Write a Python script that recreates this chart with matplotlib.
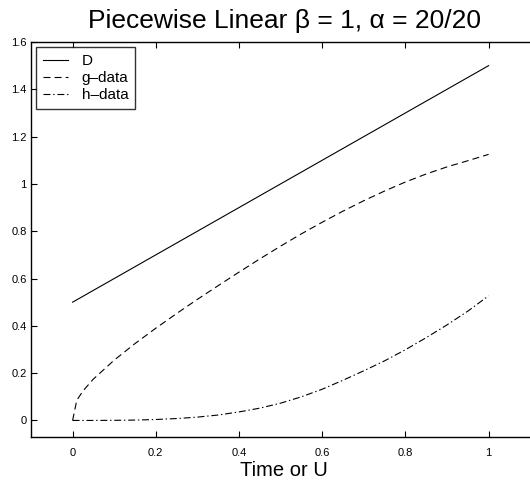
import numpy as np
import matplotlib
matplotlib.use("Agg")
import matplotlib.pyplot as plt

plt.rcParams['font.family'] = ['Liberation Sans', 'DejaVu Sans']
plt.rcParams['lines.scale_dashes'] = False

# sampled curves on [0, 1]
t = [0.0, 0.01, 0.025, 0.05, 0.1, 0.15, 0.2, 0.25, 0.3, 0.35, 0.4, 0.45,
     0.5, 0.55, 0.6, 0.65, 0.7, 0.75, 0.8, 0.85, 0.9, 0.95, 1.0]
d_vals = [0.5, 0.51, 0.525, 0.55, 0.6, 0.65, 0.7, 0.75, 0.8, 0.85, 0.9, 0.95,
          1.0, 1.05, 1.1, 1.15, 1.2, 1.25, 1.3, 1.35, 1.4, 1.45, 1.5]
g_vals = [0.0, 0.085, 0.125, 0.175, 0.255, 0.325, 0.39, 0.452, 0.512, 0.570, 0.627, 0.683,
          0.737, 0.789, 0.838, 0.885, 0.929, 0.970, 1.008, 1.042, 1.072, 1.098, 1.125]
h_vals = [0.0, 0.0, 0.0, 0.0, 0.0005, 0.0015, 0.004, 0.008, 0.014, 0.023, 0.036, 0.052,
          0.073, 0.100, 0.132, 0.170, 0.210, 0.252, 0.299, 0.350, 0.404, 0.462, 0.527]

xticks = [0, 0.2, 0.4, 0.6, 0.8, 1]
xticklabels = ['0', '0.2', '0.4', '0.6', '0.8', '1']
yticks = [0, 0.2, 0.4, 0.6, 0.8, 1, 1.2, 1.4, 1.6]
yticklabels = ['0', '0.2', '0.4', '0.6', '0.8', '1', '1.2', '1.4', '1.6']

fig = plt.figure(figsize=(5.3, 4.82), dpi=100)
# axes run a little past the right edge of the canvas
ax_w = 506
ax = fig.add_axes([31 / 530, 1 - 437 / 482, ax_w / 530, (437 - 42) / 482])

ax.plot(t, d_vals, color='black', lw=0.8, ls='-', label='D')
ax.plot(t, g_vals, color='black', lw=0.8, ls=(0, (5, 3)), label='g\u2013data')
ax.plot(t, h_vals, color='black', lw=0.8, ls=(0, (5, 2, 1, 2)), label='h\u2013data')

ax.set_xlim(-0.1, -0.1 + ax_w / 416)
ax.set_ylim(-0.07, 1.6)
ax.set_xticks(xticks)
ax.set_xticklabels(xticklabels)
ax.set_yticks(yticks)
ax.set_yticklabels(yticklabels)
ax.tick_params(direction='in', length=4, width=0.8, labelsize=8,
               top=True, right=True)
ax.tick_params(axis='x', pad=8)
ax.tick_params(axis='y', pad=3)
for s in ax.spines.values():
    s.set_linewidth(1.0)

ax.set_xlabel('Time or U', fontsize=14.5, labelpad=2)
fig.text(285 / 530, 1 - 21 / 482, 'Piecewise Linear \u03b2 = 1, \u03b1 = 20/20',
         fontsize=19, ha='center', va='center')

leg = ax.legend(loc='upper left', bbox_to_anchor=(5 / ax_w, 1 - 5 / 395),
                fontsize=11, frameon=True, fancybox=False, borderaxespad=0,
                handlelength=1.65, handletextpad=0.9, labelspacing=0.2,
                borderpad=0.45)
leg.get_frame().set_edgecolor('black')
leg.get_frame().set_linewidth(1.0)

fig.savefig('out.png', dpi=100)
